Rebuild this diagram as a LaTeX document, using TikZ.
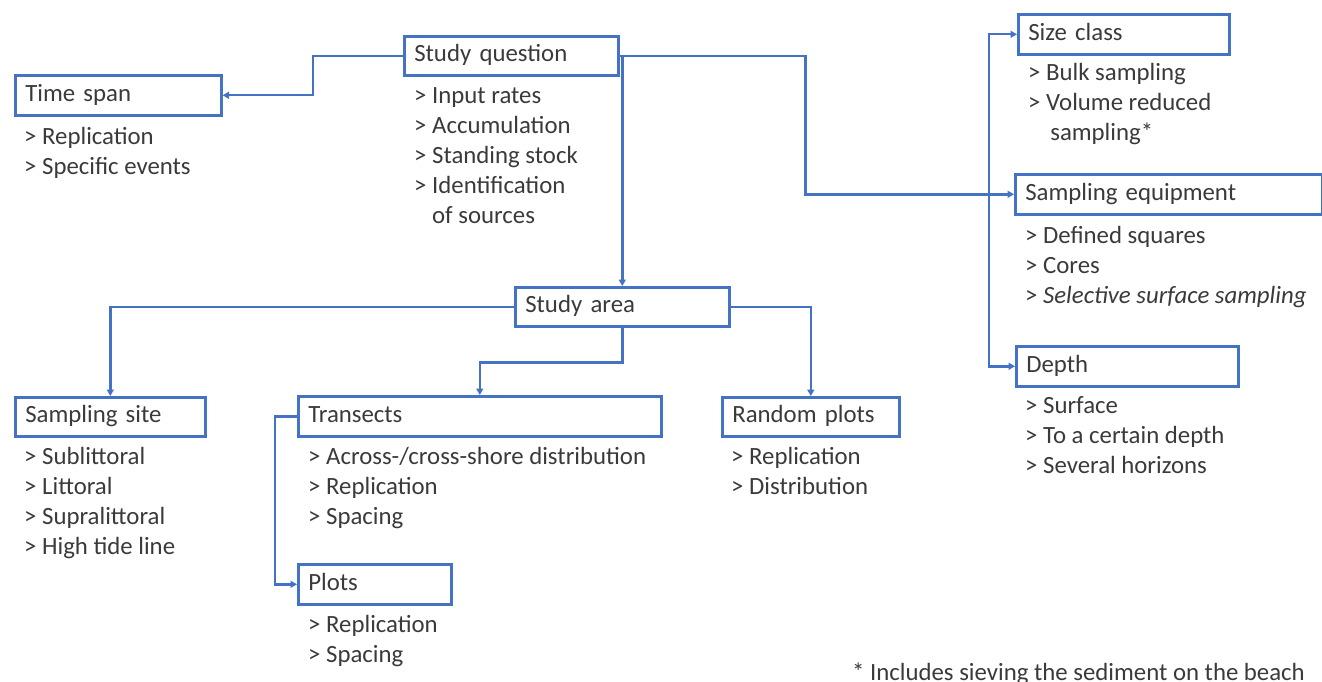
\documentclass[tikz,border=0pt]{standalone}
\usepackage{fontspec}
\setmainfont{Carlito}
\usetikzlibrary{arrows.meta}
\definecolor{lineblue}{HTML}{4472C4}
\definecolor{txt}{HTML}{3A3A3A}
\tikzset{
  every node/.style={font=\fontsize{24.8}{30}\selectfont, text=txt},
  box/.style={draw=lineblue, line width=2.6pt, anchor=north west, inner xsep=10pt, inner ysep=0pt,
    align=left, text height=17pt, text depth=5pt},
  listtext/.style={anchor=base west, inner sep=0pt, align=left},
  conn/.style={draw=lineblue, line width=2.4pt, -{Triangle[length=6.5pt,width=7pt]}},
}
\begin{document}
\begin{tikzpicture}[x=1pt,y=-1pt]
\useasboundingbox (0,0) rectangle (1322,682);
% boxes
\node[box, minimum width=214pt, minimum height=39pt, text width=194pt] (sq) at (403,35) {Study question};
\node[box, minimum width=206pt, minimum height=40pt, text width=186pt] (ts) at (14,74) {Time span};
\node[box, minimum width=211pt, minimum height=40pt, text width=191pt] (sc) at (1017,13) {Size class};
\node[box, minimum width=307pt, minimum height=40pt, text width=287pt] (se) at (1014,173) {Sampling equipment};
\node[box, minimum width=222pt, minimum height=40pt, text width=202pt] (dp) at (1015,345) {Depth};
\node[box, minimum width=214pt, minimum height=39pt, text width=194pt] (sa) at (514,286) {Study area};
\node[box, minimum width=190pt, minimum height=39pt, text width=170pt] (ss) at (14,396) {Sampling site};
\node[box, minimum width=363pt, minimum height=40pt, text width=343pt] (tr) at (297,395) {Transects};
\node[box, minimum width=177pt, minimum height=39pt, text width=157pt] (rp) at (721,396) {Random plots};
\node[box, minimum width=153pt, minimum height=40pt, text width=133pt] (pl) at (297,563) {Plots};
% lists (anchored at the baseline of their last line)
\node[listtext] (tsl) at (24,174) {> Replication\\> Specific events};
\node[listtext] (sql) at (414,223) {> Input rates\\> Accumulation\\> Standing stock\\> Identification\\\phantom{>~}of sources};
\node[listtext] (scl) at (1028,141) {> Bulk sampling\\> Volume reduced\\\phantom{>~}\,sampling*};
\node[listtext] (sel) at (1025,303) {> Defined squares\\> Cores\\> \textit{Selective surface sampling}};
\node[listtext] (dpl) at (1025,473) {> Surface\\> To a certain depth\\> Several horizons};
\node[listtext] (ssl) at (24,554) {> Sublittoral\\> Littoral\\> Supralittoral\\> High tide line};
\node[listtext] (trl) at (308,524) {> Across-/cross-shore distribution\\> Replication\\> Spacing};
\node[listtext] (rpl) at (731,494) {> Replication\\> Distribution};
\node[listtext] (pll) at (308,662) {> Replication\\> Spacing};
\node[listtext] (fn) at (852,680) {* Includes sieving the sediment on the beach};
% connectors
\draw[conn] (sq.west) -- ++(-90,0) |- (ts.east);
\draw[conn] (sq.east) -- ++(186,0) |- (se.west);
\draw[conn] (sq.east -| sa.north) -- (sa.north);
\coordinate (br) at (989,193);
\draw[conn] (br) |- (sc.west);
\draw[conn] (br) |- (dp.west);
\draw[conn] (sa.west) -| (ss.north);
\draw[conn] (sa.east) -| (rp.north);
\draw[conn] (sa.south) -- ++(0,35) -| (tr.north);
\draw[conn] (tr.west) -- ++(-22,0) |- (pl.west);
\end{tikzpicture}
\end{document}
